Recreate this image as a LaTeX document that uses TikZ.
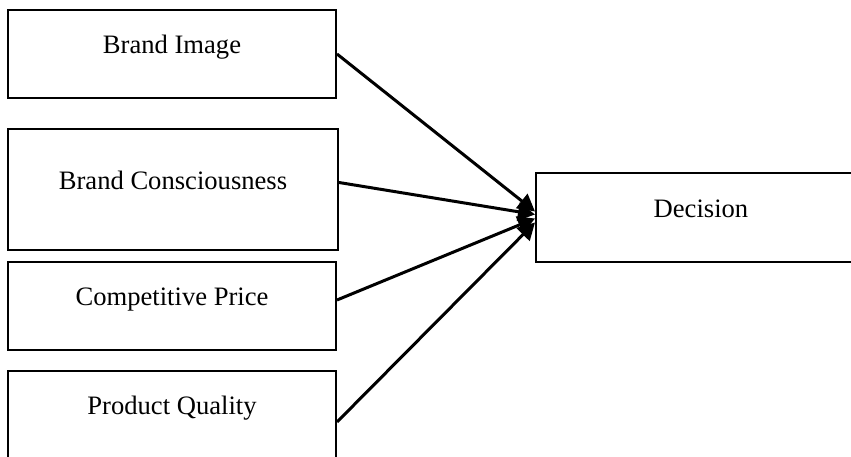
\documentclass[tikz,border=0pt]{standalone}
\usepackage{fontspec}
\setmainfont{Liberation Serif}
\usetikzlibrary{arrows.meta,positioning}

\tikzset{
    factor/.style={draw, line width=1bp, rectangle, minimum width=164bp, minimum height=44bp,
        text height=9bp, text depth=9bp, font=\fontsize{13.3bp}{16bp}\selectfont},
    link/.style={line width=1.5bp, -{Triangle[length=8.5bp,width=9bp]}}
}

\begin{document}
\begin{tikzpicture}[x=0.5bp,y=-0.5bp]
    \useasboundingbox (0,0) rectangle (851,457);
    \clip (0,0) rectangle (851,457);

    % Factors
    \node[factor] (bi) at (172,54) {Brand Image};
    \node[factor, minimum width=165bp, minimum height=60.5bp] (bc) at (173,189.5) {Brand Consciousness};
    \node[factor] (cp) at (172,306) {Competitive Price};
    \node[factor] (pq) at (172,415) {Product Quality};

    % Outcome
    \node[factor, minimum width=165bp, minimum height=44.5bp] (dec) at (701,217.5) {Decision};

    % Links
    \draw[link] (bi.east) -- ([yshift=3bp]dec.west);
    \draw[link] ([yshift=3.5bp]bc.east) -- ([yshift=1.5bp]dec.west);
    \draw[link] ([yshift=3bp]cp.east) -- ([yshift=-0.5bp]dec.west);
    \draw[link] ([yshift=-3.5bp]pq.east) -- ([yshift=-2.5bp]dec.west);
\end{tikzpicture}
\end{document}
